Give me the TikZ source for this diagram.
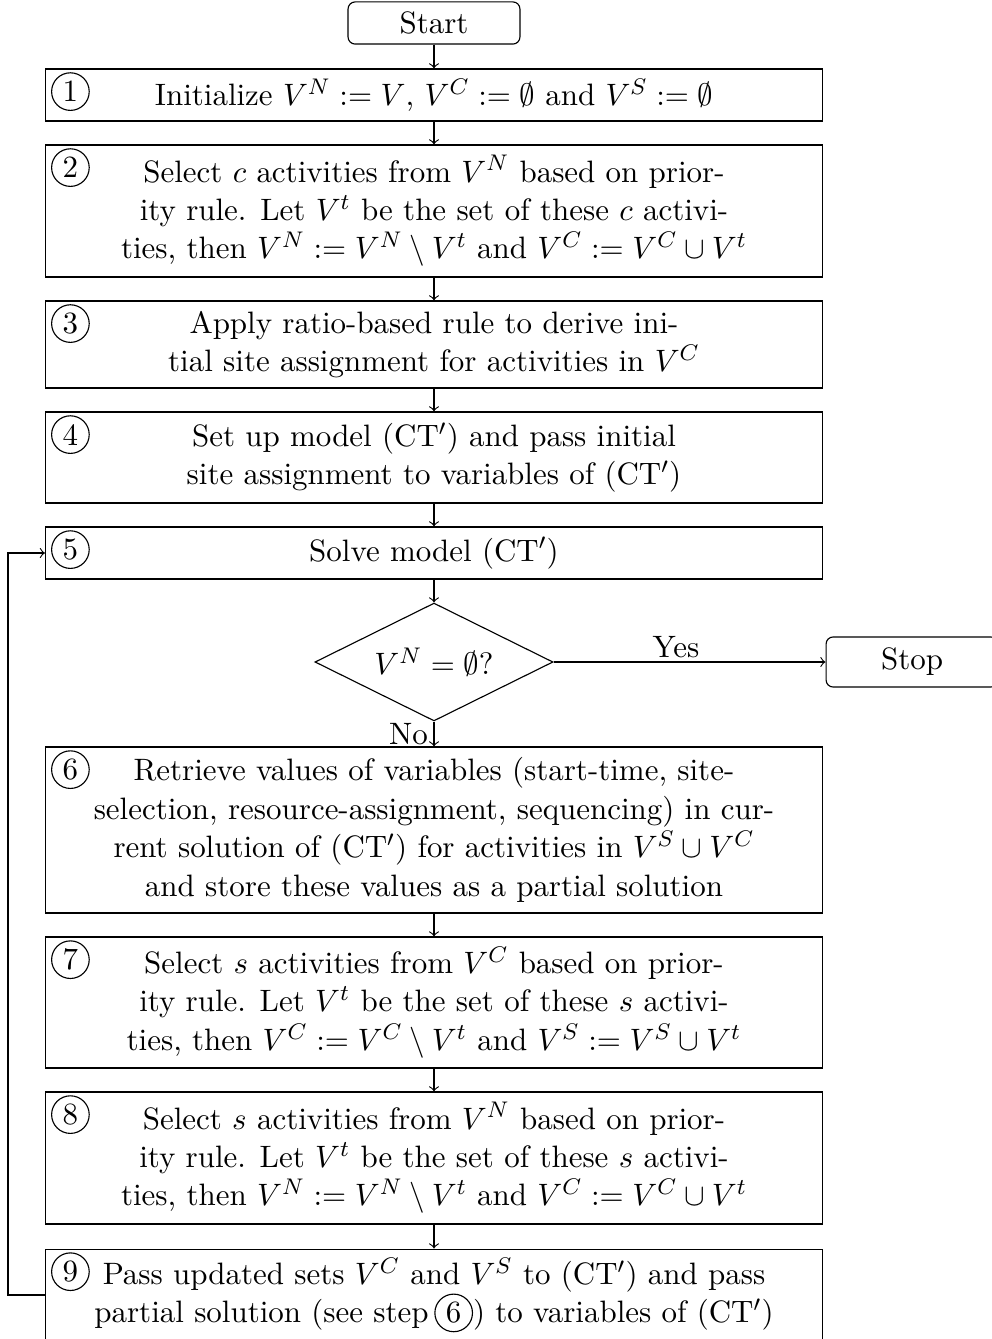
\documentclass[tikz,border=0pt]{standalone}
\usetikzlibrary{shapes.geometric}
\tikzset{
  stepbox/.style={draw, rectangle, minimum width=274.8pt, inner sep=2pt, align=center},
  term/.style={draw, rectangle, rounded corners=2.5pt, minimum width=60.8pt, inner sep=1pt},
  decision/.style={draw, diamond, aspect=2, minimum width=84.2pt, minimum height=41.7pt, inner sep=1pt},
  numc/.style={draw, circle, minimum size=13.3pt, inner sep=0.5pt},
  arr/.style={->},
}
\newcommand{\circnum}[1]{\tikz[baseline=(cn.base)]\node[numc](cn){#1};}
\begin{document}
\begin{tikzpicture}[x=0.3537pt,y=-0.3537pt,font=\fontsize{10.95pt}{13.6pt}\selectfont]
\useasboundingbox (0,0) rectangle (991,1339);
% terminals
\node[term, minimum height=14.9pt] (start) at (434,23) {Start};
\node[term, minimum height=17.7pt] (stop) at (912,662) {Stop};
% boxes
\node[stepbox, minimum height=18.4pt] (b1) at (434,95)
  {Initialize $V^N := V$, $V^C := \emptyset$ and $V^S := \emptyset$};
\node[stepbox, minimum height=46.7pt] (b2) at (434,211)
  {Select $c$ activities from $V^N$ based on prior-\\
   ity rule. Let $V^t$ be the set of these $c$ activi-\\
   ties, then $V^N := V^N \setminus V^t$ and $V^C := V^C \cup V^t$};
\node[stepbox, minimum height=30.8pt] (b3) at (434,344.5)
  {Apply ratio-based rule to derive ini-\\
   tial site assignment for activities in $V^C$};
\node[stepbox, minimum height=32.2pt] (b4) at (434,457.5)
  {Set up model (CT$'$) and pass initial\\
   site assignment to variables of (CT$'$)};
\node[stepbox, minimum height=18.4pt] (b5) at (434,553)
  {Solve model (CT$'$)};
\node[decision] (dec) at (434,662) {$V^N = \emptyset$?};
\node[stepbox, minimum height=58.7pt] (b6) at (434,830)
  {Retrieve values of variables (start-time, site-\\
   selection, resource-assignment, sequencing) in cur-\\
   rent solution of (CT$'$) for activities in $V^S \cup V^C$\\
   and store these values as a partial solution};
\node[stepbox, minimum height=46.3pt] (b7) at (434,1002.5)
  {Select $s$ activities from $V^C$ based on prior-\\
   ity rule. Let $V^t$ be the set of these $s$ activi-\\
   ties, then $V^C := V^C \setminus V^t$ and $V^S := V^S \cup V^t$};
\node[stepbox, minimum height=46.7pt] (b8) at (434,1158)
  {Select $s$ activities from $V^N$ based on prior-\\
   ity rule. Let $V^t$ be the set of these $s$ activi-\\
   ties, then $V^N := V^N \setminus V^t$ and $V^C := V^C \cup V^t$};
\node[stepbox, minimum height=32.5pt] (b9) at (434,1295)
  {Pass updated sets $V^C$ and $V^S$ to (CT$'$) and pass\\
   partial solution (see step\hspace{2pt}\circnum{6}) to variables of (CT$'$)};
% circled numbers
\node[numc] (n1) at ([shift={(9pt,-8.2pt)}]b1.north west) {1};
\node[numc] (n2) at ([shift={(9pt,-8.2pt)}]b2.north west) {2};
\node[numc] (n3) at ([shift={(9pt,-8.2pt)}]b3.north west) {3};
\node[numc] (n4) at ([shift={(9pt,-8.2pt)}]b4.north west) {4};
\node[numc] (n5) at ([shift={(9pt,-8.2pt)}]b5.north west) {5};
\node[numc] (n6) at ([shift={(9pt,-8.2pt)}]b6.north west) {6};
\node[numc] (n7) at ([shift={(9pt,-8.2pt)}]b7.north west) {7};
\node[numc] (n8) at ([shift={(9pt,-8.2pt)}]b8.north west) {8};
\node[numc] (n9) at ([shift={(9pt,-8.2pt)}]b9.north west) {9};
% connectors
\draw[arr] (start) -- (b1);
\draw[arr] (b1) -- (b2);
\draw[arr] (b2) -- (b3);
\draw[arr] (b3) -- (b4);
\draw[arr] (b4) -- (b5);
\draw[arr] (b5) -- (dec);
\draw[arr] (dec) -- node[above, inner sep=1.4pt, pos=0.45] {Yes} (stop);
\draw[arr] (dec) -- node[left, inner sep=2pt] {No} (b6);
\draw[arr] (b6) -- (b7);
\draw[arr] (b7) -- (b8);
\draw[arr] (b8) -- (b9);
\coordinate (L) at (8,0);
\draw[arr] (b9.west) -- (b9.west -| L) |- (b5.west);
\end{tikzpicture}
\end{document}
